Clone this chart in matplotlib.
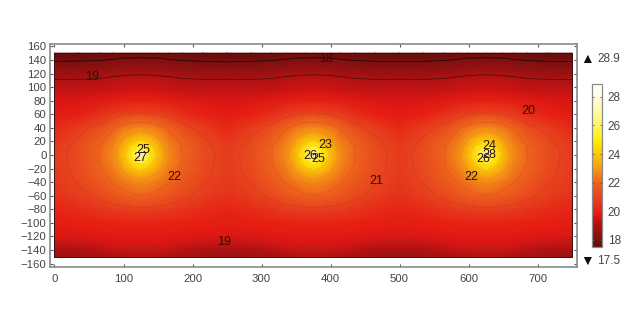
import numpy as np
import matplotlib
matplotlib.use("Agg")
import matplotlib.pyplot as plt
from matplotlib.colors import LinearSegmentedColormap

plt.rcParams["font.family"] = ["Liberation Sans", "DejaVu Sans"]

# -----------------------------
# Data
# -----------------------------
x_pos = [0, 35, 65, 85, 100, 113, 125, 137, 150, 165, 185, 215,
         250, 285, 315, 335, 350, 363, 375, 387, 400, 415, 435, 465,
         500, 535, 565, 585, 600, 613, 625, 637, 650, 665, 685, 715, 750]
y_pos = [150, 140, 125, 110, 95, 80, 60, 40, 25, 12, 0,
         -12, -25, -40, -60, -80, -100, -115, -130, -140, -150]

temperature = [
    [17.60, 17.60, 17.65, 17.70, 17.75, 17.75, 17.75, 17.75, 17.75, 17.70, 17.65, 17.60, 17.55, 17.60, 17.65, 17.70, 17.75, 17.75, 17.75, 17.75, 17.75, 17.70, 17.65, 17.60, 17.58, 17.60, 17.65, 17.70, 17.75, 17.75, 17.75, 17.75, 17.75, 17.70, 17.65, 17.60, 17.60],
    [17.92, 17.94, 17.97, 18.03, 18.10, 18.10, 18.12, 18.10, 18.10, 18.03, 17.97, 17.92, 17.88, 17.92, 17.97, 18.03, 18.10, 18.10, 18.12, 18.10, 18.10, 18.03, 17.97, 17.92, 17.90, 17.92, 17.97, 18.03, 18.10, 18.10, 18.12, 18.10, 18.10, 18.03, 17.97, 17.92, 17.90],
    [18.50, 18.50, 18.55, 18.65, 18.70, 18.72, 18.75, 18.72, 18.70, 18.65, 18.55, 18.50, 18.48, 18.50, 18.55, 18.65, 18.70, 18.72, 18.75, 18.72, 18.70, 18.65, 18.55, 18.50, 18.48, 18.50, 18.55, 18.65, 18.70, 18.72, 18.75, 18.72, 18.70, 18.65, 18.55, 18.50, 18.50],
    [19.05, 19.05, 19.10, 19.20, 19.25, 19.30, 19.30, 19.30, 19.25, 19.20, 19.10, 19.05, 19.06, 19.05, 19.10, 19.20, 19.25, 19.30, 19.30, 19.30, 19.25, 19.20, 19.10, 19.05, 19.06, 19.05, 19.10, 19.20, 19.25, 19.30, 19.30, 19.30, 19.25, 19.20, 19.10, 19.05, 19.05],
    [19.35, 19.37, 19.40, 19.45, 19.50, 19.52, 19.52, 19.52, 19.50, 19.45, 19.40, 19.37, 19.35, 19.37, 19.40, 19.45, 19.50, 19.52, 19.52, 19.52, 19.50, 19.45, 19.40, 19.37, 19.35, 19.37, 19.40, 19.45, 19.50, 19.52, 19.52, 19.52, 19.50, 19.45, 19.40, 19.37, 19.35],
    [19.65, 19.70, 19.80, 19.90, 19.95, 19.98, 20.00, 19.98, 19.95, 19.90, 19.80, 19.70, 19.65, 19.70, 19.80, 19.90, 19.95, 19.98, 20.00, 19.98, 19.95, 19.90, 19.80, 19.70, 19.65, 19.70, 19.80, 19.90, 19.95, 19.98, 20.00, 19.98, 19.95, 19.90, 19.80, 19.70, 19.65],
    [19.85, 20.00, 20.35, 20.70, 20.95, 21.05, 21.10, 21.05, 20.95, 20.70, 20.35, 20.00, 19.85, 20.00, 20.35, 20.70, 20.95, 21.05, 21.10, 21.05, 20.95, 20.70, 20.35, 20.00, 19.85, 20.00, 20.35, 20.70, 20.95, 21.05, 21.10, 21.05, 20.95, 20.70, 20.35, 20.00, 19.85],
    [20.20, 20.70, 21.30, 21.90, 22.30, 22.55, 22.65, 22.55, 22.30, 21.90, 21.30, 20.70, 20.20, 20.70, 21.30, 21.90, 22.30, 22.55, 22.65, 22.55, 22.30, 21.90, 21.30, 20.70, 20.20, 20.70, 21.30, 21.90, 22.30, 22.55, 22.65, 22.55, 22.30, 21.90, 21.30, 20.70, 20.20],
    [20.45, 21.05, 21.75, 22.30, 23.00, 23.50, 23.80, 23.50, 23.00, 22.30, 21.75, 21.05, 20.45, 21.05, 21.75, 22.30, 23.00, 23.50, 23.80, 23.50, 23.00, 22.30, 21.75, 21.05, 20.45, 21.05, 21.75, 22.30, 23.00, 23.50, 23.80, 23.50, 23.00, 22.30, 21.75, 21.05, 20.45],
    [20.65, 21.25, 21.98, 22.60, 23.50, 24.60, 25.40, 24.60, 23.50, 22.60, 21.98, 21.25, 20.65, 21.25, 21.98, 22.60, 23.50, 24.60, 25.40, 24.60, 23.50, 22.60, 21.98, 21.25, 20.65, 21.25, 21.98, 22.60, 23.50, 24.60, 25.40, 24.60, 23.50, 22.60, 21.98, 21.25, 20.65],
    [20.70, 21.30, 22.00, 22.70, 23.80, 25.40, 28.90, 25.40, 23.80, 22.70, 22.00, 21.30, 20.70, 21.30, 22.00, 22.70, 23.80, 25.40, 28.80, 25.40, 23.80, 22.70, 22.00, 21.30, 20.70, 21.30, 22.00, 22.70, 23.80, 25.40, 28.70, 25.40, 23.80, 22.70, 22.00, 21.30, 20.70],
    [20.70, 21.25, 21.98, 22.60, 23.50, 24.60, 25.40, 24.60, 23.50, 22.60, 21.98, 21.25, 20.70, 21.25, 21.98, 22.60, 23.50, 24.60, 25.40, 24.60, 23.50, 22.60, 21.98, 21.25, 20.70, 21.25, 21.98, 22.60, 23.50, 24.60, 25.40, 24.60, 23.50, 22.60, 21.98, 21.25, 20.70],
    [20.68, 21.20, 21.85, 22.35, 23.00, 23.50, 23.80, 23.50, 23.00, 22.35, 21.85, 21.20, 20.68, 21.20, 21.85, 22.35, 23.00, 23.50, 23.80, 23.50, 23.00, 22.35, 21.85, 21.20, 20.68, 21.20, 21.85, 22.35, 23.00, 23.50, 23.80, 23.50, 23.00, 22.35, 21.85, 21.20, 20.68],
    [20.60, 21.05, 21.60, 22.05, 22.35, 22.60, 22.70, 22.60, 22.35, 22.05, 21.60, 21.05, 20.60, 21.05, 21.60, 22.05, 22.35, 22.60, 22.70, 22.60, 22.35, 22.05, 21.60, 21.05, 20.60, 21.05, 21.60, 22.05, 22.35, 22.60, 22.70, 22.60, 22.35, 22.05, 21.60, 21.05, 20.60],
    [20.40, 20.75, 21.20, 21.55, 21.75, 21.90, 21.95, 21.90, 21.75, 21.55, 21.20, 20.75, 20.40, 20.75, 21.20, 21.55, 21.75, 21.90, 21.95, 21.90, 21.75, 21.55, 21.20, 20.75, 20.40, 20.75, 21.20, 21.55, 21.75, 21.90, 21.95, 21.90, 21.75, 21.55, 21.20, 20.75, 20.40],
    [20.10, 20.30, 20.55, 20.70, 20.78, 20.82, 20.85, 20.82, 20.78, 20.70, 20.55, 20.30, 20.10, 20.30, 20.55, 20.70, 20.78, 20.82, 20.85, 20.82, 20.78, 20.70, 20.55, 20.30, 20.10, 20.30, 20.55, 20.70, 20.78, 20.82, 20.85, 20.82, 20.78, 20.70, 20.55, 20.30, 20.10],
    [19.90, 19.95, 20.00, 20.05, 20.08, 20.10, 20.10, 20.10, 20.08, 20.05, 20.00, 19.95, 19.90, 19.95, 20.00, 20.05, 20.08, 20.10, 20.10, 20.10, 20.08, 20.05, 20.00, 19.95, 19.90, 19.95, 20.00, 20.05, 20.08, 20.10, 20.10, 20.10, 20.08, 20.05, 20.00, 19.95, 19.90],
    [19.75, 19.80, 19.85, 19.88, 19.90, 19.90, 19.90, 19.90, 19.90, 19.88, 19.85, 19.80, 19.75, 19.80, 19.85, 19.88, 19.90, 19.90, 19.90, 19.90, 19.90, 19.88, 19.85, 19.80, 19.75, 19.80, 19.85, 19.88, 19.90, 19.90, 19.90, 19.90, 19.90, 19.88, 19.85, 19.80, 19.75],
    [19.40, 19.45, 19.55, 19.65, 19.70, 19.70, 19.72, 19.70, 19.70, 19.65, 19.55, 19.45, 19.40, 19.45, 19.55, 19.65, 19.70, 19.70, 19.72, 19.70, 19.70, 19.65, 19.55, 19.45, 19.40, 19.45, 19.55, 19.65, 19.70, 19.70, 19.72, 19.70, 19.70, 19.65, 19.55, 19.45, 19.40],
    [19.00, 19.05, 19.20, 19.35, 19.42, 19.45, 19.45, 19.45, 19.42, 19.35, 19.20, 19.05, 19.00, 19.05, 19.20, 19.35, 19.42, 19.45, 19.45, 19.45, 19.42, 19.35, 19.20, 19.05, 19.00, 19.05, 19.20, 19.35, 19.42, 19.45, 19.45, 19.45, 19.42, 19.35, 19.20, 19.05, 19.00],
    [18.70, 18.75, 18.85, 19.00, 19.08, 19.10, 19.10, 19.10, 19.08, 19.00, 18.85, 18.75, 18.70, 18.75, 18.85, 19.00, 19.08, 19.10, 19.10, 19.10, 19.08, 19.00, 18.85, 18.75, 18.70, 18.75, 18.85, 19.00, 19.08, 19.10, 19.10, 19.10, 19.08, 19.00, 18.85, 18.75, 18.70],
]

t_min = 17.5
t_max = 28.9
upper_levels = [18, 19, 19.5, 20, 21, 22, 23, 24, 25, 26, 27, 28]
upper_colors = ["#150404", "#4a0a0a", "#c01c14", "#d82214", "#da3a1a", "#e2561c", "#ec8a1c",
                "#f0b810", "#f0d800", "#f0e040", "#f0e480", "#f0e8b0"]
lower_levels = [19.5, 20, 21, 22, 23, 24, 25, 26, 27, 28]
lower_colors = ["#a82a1a", "#d82214", "#da3a1a", "#e2561c", "#ec8a1c",
                "#f0b810", "#f0d800", "#f0e040", "#f0e480", "#f0e8b0"]

label_text = ["18", "19", "19", "20", "21", "22", "22", "23", "24", "28", "26", "25", "25", "26", "27"]
label_x = [393, 54, 246, 686, 466, 173, 604, 392, 630, 630, 621, 128, 382, 371, 124]
label_y = [141, 115, -128, 65, -38, -32, -32, 15, 13, 0, -6, 7, -6, -2, -5]

x_ticks = [0, 100, 200, 300, 400, 500, 600, 700]
y_ticks = list(range(-160, 161, 20))
cbar_ticks = [18, 20, 22, 24, 26, 28]

# colour ramp, stops as seen on the colour bar
ramp = [(17.5, "#5e0c0c"), (18, "#7c1010"), (19, "#aa1212"), (19.6, "#d81414"),
        (20, "#e92012"), (20.3, "#e62c18"), (20.7, "#e53c1e"), (21.3, "#e84c1e"), (22, "#ee641c"),
        (23, "#f59a16"), (24, "#fcc800"), (25, "#fff000"), (26, "#fff56a"), (27, "#fff9a8"),
        (28, "#fffde0"), (28.9, "#ffffff")]
cmap = LinearSegmentedColormap.from_list(
    "heat", [((v - t_min) / (t_max - t_min), c) for v, c in ramp], N=512)

gray = "#8a8a8a"
text_color = "#444444"

# -----------------------------
# Plot
# -----------------------------
fig = plt.figure(figsize=(6.42, 3.21), dpi=100)
ax = fig.add_axes([50 / 642, 1 - 267 / 321, 527 / 642, 223.5 / 321])

X, Y = np.meshgrid(x_pos, y_pos)
Z = np.array(temperature)
mesh = ax.pcolormesh(X, Y, Z, cmap=cmap, vmin=t_min, vmax=t_max, shading="gouraud")

# contour lines, upper and lower half apart because their shades differ
ax.contour(X[:11], Y[:11], Z[:11], levels=upper_levels, colors=upper_colors, linewidths=0.5)
ax.contour(X[10:], Y[10:], Z[10:], levels=lower_levels, colors=lower_colors, linewidths=0.5)

# domain outline
ax.plot([x_pos[0], x_pos[-1], x_pos[-1], x_pos[0], x_pos[0]],
        [y_pos[0], y_pos[0], y_pos[-1], y_pos[-1], y_pos[0]],
        color="#3a1010", lw=0.7)

for t, lx, ly in zip(label_text, label_x, label_y):
    ax.text(lx, ly, t, fontsize=9, color="#2a1208", ha="center", va="center")

ax.set_xlim(-6.5, 757)
ax.set_ylim(-165, 164.2)
ax.set_xticks(x_ticks)
ax.set_yticks(y_ticks)
ax.tick_params(axis="both", top=True, right=True, direction="in", length=2.5, width=0.8,
               color="#555555", labelsize=8.2, labelcolor=text_color, pad=2.5)
ax.tick_params(axis="x", pad=5)
for spine in ax.spines.values():
    spine.set_color(gray)
    spine.set_linewidth(1.2)

# colour bar
cax = fig.add_axes([592 / 642, 1 - 247 / 321, 10 / 642, 163 / 321])
cbar = fig.colorbar(mesh, cax=cax, ticks=cbar_ticks)
cax.tick_params(axis="y", direction="in", length=1.5, width=0.6, color="#555555",
                labelsize=8.5, labelcolor=text_color, pad=4)
cax.yaxis.set_tick_params(left=True, right=True)
cbar.outline.set_edgecolor(gray)
cbar.outline.set_linewidth(0.9)

# max / min readouts
fig.text(587 / 642, 1 - 59 / 321, "\u25b2", fontsize=10, color="#111111", ha="center", va="center")
fig.text(597 / 642, 1 - 59 / 321, "28.9", fontsize=8.5, color=text_color, ha="left", va="center")
fig.text(587 / 642, 1 - 261 / 321, "\u25bc", fontsize=10, color="#111111", ha="center", va="center")
fig.text(597 / 642, 1 - 261 / 321, "17.5", fontsize=8.5, color=text_color, ha="left", va="center")

fig.savefig("out.png", dpi=100)
